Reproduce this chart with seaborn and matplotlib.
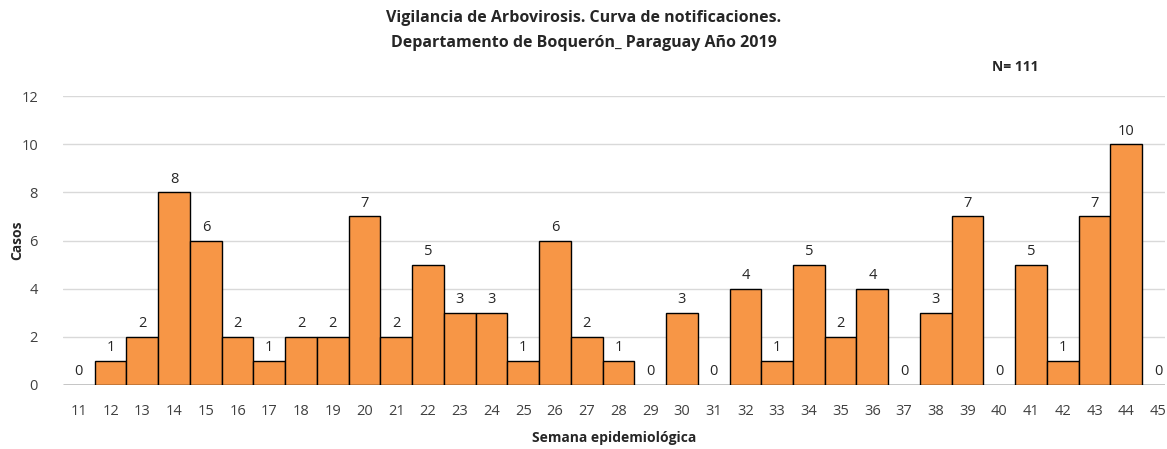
import matplotlib
matplotlib.use("Agg")
import matplotlib.pyplot as plt
import seaborn as sns
import pandas as pd

weeks = list(range(11, 46))
cases = [0, 1, 2, 8, 6, 2, 1, 2, 2, 7,
         2, 5, 3, 3, 1, 6, 2, 1, 0, 3,
         0, 4, 1, 5, 2, 4, 0, 3, 7, 0,
         5, 1, 7, 10, 0]

df = pd.DataFrame({"semana": [str(w) for w in weeks], "casos": cases})

sns.set_theme(style="white")
plt.rcParams["font.family"] = ["Open Sans", "DejaVu Sans"]

fig = plt.figure(figsize=(11.67, 4.49), dpi=100)
ax = fig.add_axes([63 / 1167, 64 / 449, 1102 / 1167, 289 / 449])

sns.barplot(data=df, x="semana", y="casos", color="#F79646", saturation=1,
            width=1.0, edgecolor="black", linewidth=1.0, ax=ax, zorder=3)

ax.bar_label(ax.containers[0], padding=4, fontsize=10.5, color="#262626")

ax.set_ylim(0, 12)
ax.set_xlim(-0.5, 34.22)
ax.set_yticks(range(0, 13, 2))
ax.yaxis.grid(True, color="#d9d9d9", linewidth=1, zorder=0)
for s in ax.spines.values():
    s.set_visible(False)
ax.tick_params(axis="both", length=0, labelsize=10.5, colors="#404040")
ax.tick_params(axis="x", pad=14)
ax.tick_params(axis="y", pad=18)

ax.set_xlabel("Semana epidemiológica", fontsize=10, fontweight="bold", labelpad=8)
ax.set_ylabel("")
fig.text(17 / 1167, 1 - 240 / 449, "Casos", rotation=90, ha="center", va="center",
         fontsize=10, fontweight="bold")

fig.text(0.5, 1 - 18 / 449, "Vigilancia de Arbovirosis. Curva de notificaciones.",
         ha="center", va="center", fontsize=11.5, fontweight="bold")
fig.text(0.5, 1 - 43 / 449, "Departamento de Boquerón_ Paraguay Año 2019",
         ha="center", va="center", fontsize=11.5, fontweight="bold")
fig.text(1015 / 1167, 1 - 67 / 449, "N= 111", ha="center", va="center",
         fontsize=10, fontweight="bold")

fig.savefig("out.png", dpi=100)
